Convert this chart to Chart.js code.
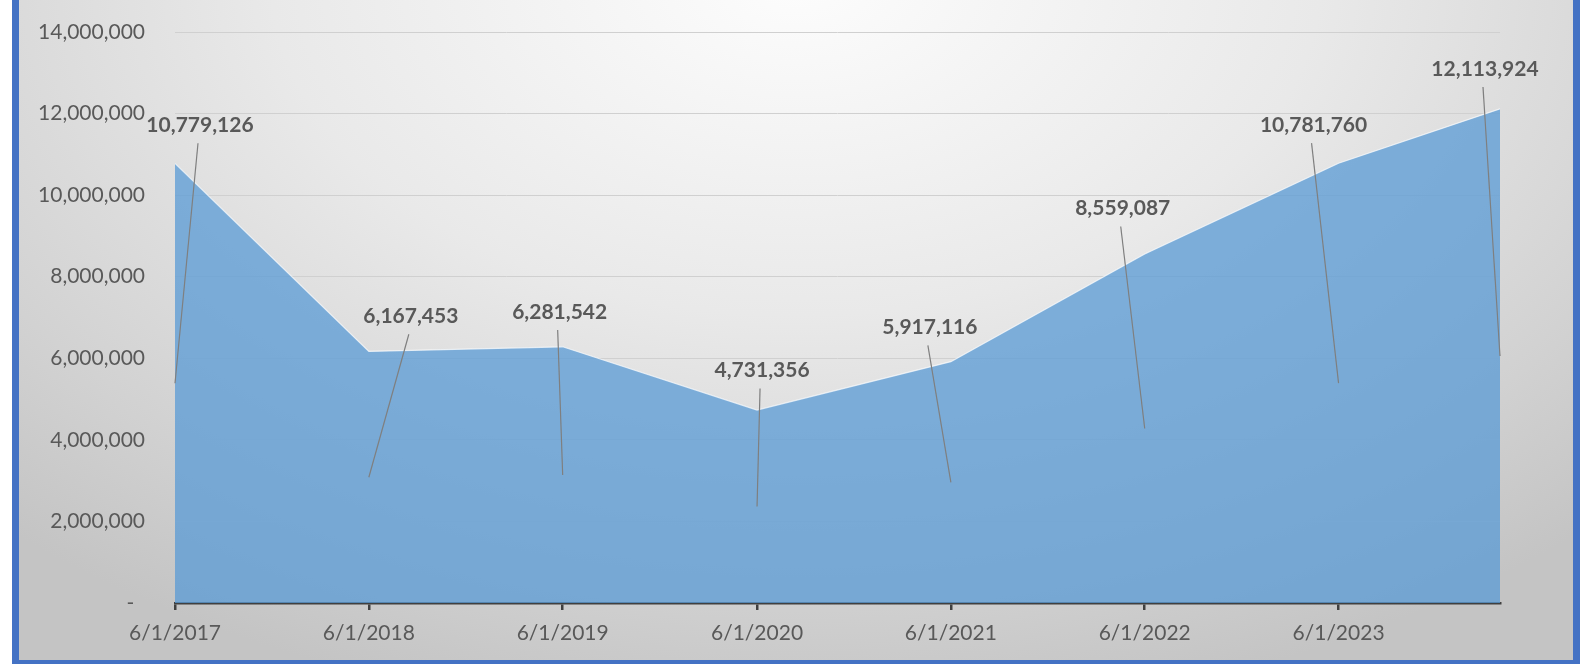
<!DOCTYPE html>
<html>
<head>
<meta charset="utf-8">
<script src="https://cdn.jsdelivr.net/npm/chart.js@4"></script>
<style>
  html, body { margin: 0; padding: 0; background: #ffffff; overflow: hidden; }
  #wrap { position: relative; width: 1586px; height: 664px; }
  #frame {
    position: absolute; left: 12px; top: -30px; width: 1568px; height: 697px;
    box-sizing: border-box; border: 7px solid #4472c4;
    background: radial-gradient(ellipse 75% 110% at 50% 0%, #fdfdfd 0%, #e9e9e9 45%, #d2d2d2 80%, #c4c4c4 100%);
  }
  #chart { position: absolute; left: 0; top: 0; }
</style>
</head>
<body>
<div id="wrap">
  <div id="frame"></div>
  <canvas id="chart" width="1586" height="664"></canvas>
</div>
<script>
// Dates of each reading and the value on that date
const dates = ['2017-06-01', '2018-06-01', '2019-06-01', '2020-06-01',
               '2021-06-01', '2022-06-01', '2023-06-01', '2024-03-31'];
const values = [10779126, 6167453, 6281542, 4731356, 5917116, 8559087, 10781760, 12113924];

// Axis ticks
const tickDates = ['2017-06-01', '2018-06-01', '2019-06-01', '2020-06-01',
                   '2021-06-01', '2022-06-01', '2023-06-01'];
const yTicks = [0, 2000000, 4000000, 6000000, 8000000, 10000000, 12000000, 14000000];

// Where each value label sits, nudged away from the middle of the area (px)
const labelNudge = [[25, -258], [42, -161], [-3, -163], [5, -136],
                    [-21, -155], [-22, -220], [-25, -258], [-15, -287]];

const dayNum = s => Date.parse(s) / 864e5;
const fmtDate = d => {
  const t = new Date(d * 864e5);
  return (t.getUTCMonth() + 1) + '/' + t.getUTCDate() + '/' + t.getUTCFullYear();
};
const fmtNum = v => v.toLocaleString('en-US');

Chart.defaults.font.family = 'Lato, "Open Sans", sans-serif';
Chart.defaults.font.size = 21;
Chart.defaults.color = '#595959';

// value labels with leader lines down to the middle of the area
const leaderLabels = {
  id: 'leaderLabels',
  afterDatasetsDraw(chart) {
    const { ctx, scales: { x, y } } = chart;
    ctx.save();
    values.forEach((v, i) => {
      const ax = x.getPixelForValue(dayNum(dates[i]));
      const ay = y.getPixelForValue(v / 2);
      const lx = ax + labelNudge[i][0];
      const ly = ay + labelNudge[i][1];
      ctx.strokeStyle = '#7f7f7f';
      ctx.lineWidth = 1.2;
      ctx.beginPath();
      ctx.moveTo(lx - 2, ly + 18);
      ctx.lineTo(ax, ay);
      ctx.stroke();
      ctx.font = 'bold 21px Lato, "Open Sans", sans-serif';
      ctx.fillStyle = '#595959';
      ctx.textAlign = 'center';
      ctx.textBaseline = 'middle';
      ctx.fillText(fmtNum(v), lx, ly);
    });
    ctx.restore();
  }
};

new Chart(document.getElementById('chart'), {
  type: 'line',
  data: {
    datasets: [{
      data: dates.map((d, i) => ({ x: dayNum(d), y: values[i] })),
      fill: 'origin',
      backgroundColor: 'rgba(91,155,213,0.76)',
      borderColor: 'rgba(255,255,255,0.7)',
      borderWidth: 1.2,
      pointRadius: 0,
      tension: 0
    }]
  },
  options: {
    responsive: false,
    animation: false,
    layout: { padding: { top: 32, right: 86, left: 0, bottom: 0 } },
    plugins: { legend: { display: false }, tooltip: { enabled: false } },
    scales: {
      x: {
        type: 'linear',
        min: dayNum(dates[0]),
        max: dayNum(dates[dates.length - 1]),
        afterBuildTicks: s => { s.ticks = tickDates.map(d => ({ value: dayNum(d) })); },
        afterFit: s => { s.height = 61; s.paddingLeft = 0; s.paddingRight = 0; },
        grid: { drawOnChartArea: false, drawTicks: true, tickLength: 7, color: '#404040', lineWidth: 2.5 },
        border: { color: '#404040', width: 2.5 },
        ticks: { autoSkip: false, maxRotation: 0, padding: 11, callback: v => fmtDate(v) }
      },
      y: {
        min: 0,
        max: 14000000,
        afterBuildTicks: s => { s.ticks = yTicks.map(v => ({ value: v })); },
        afterFit: s => { s.width = 175; s.paddingTop = 0; s.paddingBottom = 0; },
        grid: { color: '#d0d0d0', lineWidth: 1, drawTicks: false },
        border: { display: false },
        ticks: { padding: 30, callback: v => v === 0 ? '-  ' : fmtNum(v) }
      }
    }
  },
  plugins: [leaderLabels]
});
</script>
</body>
</html>
